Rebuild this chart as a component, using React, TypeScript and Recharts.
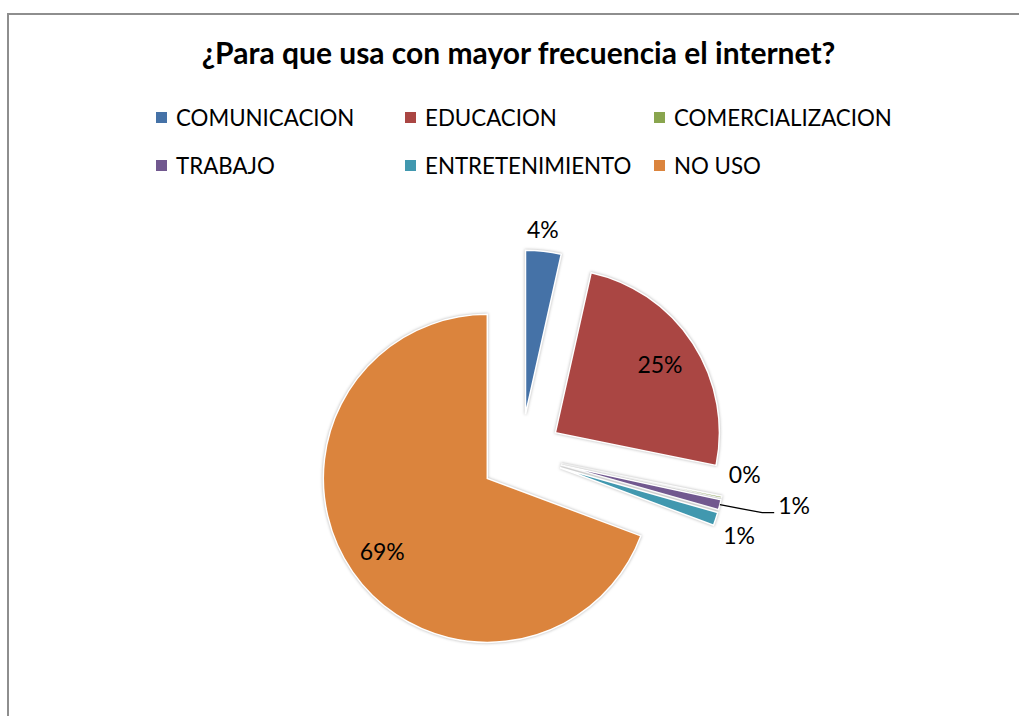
import { PieChart, Pie, Cell, Sector, Legend } from "recharts";

const categories = ["COMUNICACION", "EDUCACION", "COMERCIALIZACION", "TRABAJO", "ENTRETENIMIENTO", "NO USO"];
const shares = [3.5, 24.7, 0.2, 1.0, 1.3, 69.3];
const sliceColors = ["#4572A7", "#AA4643", "#89A54E", "#71588F", "#4198AF", "#DB843D"];

const chartData = categories.map((name, i) => ({ name, value: shares[i] }));

const RADIAN = Math.PI / 180;
const EXPLODE = 0.25;
const FONT = "Lato, 'Open Sans', sans-serif";

// every slice is pulled out from the centre along its mid angle
const explodedCenter = (cx: number, cy: number, midAngle: number, r: number) => {
  const off = r * EXPLODE;
  return [cx + off * Math.cos(-midAngle * RADIAN), cy + off * Math.sin(-midAngle * RADIAN)];
};

const ExplodedSector = (props: any) => {
  const { cx, cy, midAngle, outerRadius } = props;
  const [ex, ey] = explodedCenter(cx, cy, midAngle, outerRadius);
  return (
    <Sector
      {...props}
      cx={ex}
      cy={ey}
      style={{ filter: "drop-shadow(0px 0px 1.5px rgba(0,0,0,0.3))" }}
    />
  );
};

// label placement per slice (inside / outside / with leader line)
const labelLayout = [
  { mode: "out", shift: 0.9, pad: 21 },
  { mode: "in", k: 0.76 },
  { mode: "out", shift: 8.3, pad: 20 },
  { mode: "leader", shift: 0.7, pad: 43 },
  { mode: "out", shift: -2.5, pad: 27.5 },
  { mode: "in", k: 0.78 },
];

const LABEL_SIZE = 23;

const renderLabel = (props: any) => {
  const { cx, cy, midAngle, outerRadius, percent, index } = props;
  const [ex, ey] = explodedCenter(cx, cy, midAngle, outerRadius);
  const text = `${Math.round(percent * 100)}%`;
  const lay: any = labelLayout[index];
  const base = LABEL_SIZE * 0.36;

  if (lay.mode === "in") {
    const r = outerRadius * lay.k;
    const x = ex + r * Math.cos(-midAngle * RADIAN);
    const y = ey + r * Math.sin(-midAngle * RADIAN);
    return (
      <text x={x} y={y + base} textAnchor="middle" fontFamily={FONT} fontSize={LABEL_SIZE} fill="#000">
        {text}
      </text>
    );
  }

  const a = -(midAngle + lay.shift) * RADIAN;
  if (lay.mode === "leader") {
    const sx = ex + outerRadius * Math.cos(-midAngle * RADIAN);
    const sy = ey + outerRadius * Math.sin(-midAngle * RADIAN);
    const mx = ex + (outerRadius + lay.pad) * Math.cos(a);
    const my = ey + (outerRadius + lay.pad) * Math.sin(a);
    return (
      <g>
        <polyline points={`${sx},${sy} ${mx},${my} ${mx + 12},${my}`} fill="none" stroke="#000" strokeWidth={1.3} />
        <text x={mx + 16} y={my - 7 + base} textAnchor="start" fontFamily={FONT} fontSize={LABEL_SIZE} fill="#000">
          {text}
        </text>
      </g>
    );
  }

  const x = ex + (outerRadius + lay.pad) * Math.cos(a);
  const y = ey + (outerRadius + lay.pad) * Math.sin(a);
  return (
    <text x={x} y={y + base} textAnchor="middle" fontFamily={FONT} fontSize={LABEL_SIZE} fill="#000">
      {text}
    </text>
  );
};

const renderLegend = (props: any) => {
  const payload = [...(props.payload ?? [])].sort(
    (a: any, b: any) => categories.indexOf(a.value) - categories.indexOf(b.value)
  );
  return (
    <div style={{ display: "grid", gridTemplateColumns: "249px 249px 270px" }}>
      {payload.map((entry: any) => (
        <div
          key={entry.value}
          style={{ display: "flex", alignItems: "center", height: 48, fontFamily: FONT, fontSize: 22.3, color: "#000" }}
        >
          <span
            style={{
              width: 11,
              height: 11,
              background: entry.color ?? sliceColors[categories.indexOf(entry.value)],
              marginRight: 9,
              flexShrink: 0,
            }}
          />
          <span style={{ whiteSpace: "nowrap" }}>{entry.value}</span>
        </div>
      ))}
    </div>
  );
};

export default function App() {
  return (
    <div style={{ position: "absolute", left: 0, top: 0, width: 1019, height: 716, overflow: "hidden", background: "#fff" }}>
      <div
        style={{
          position: "absolute",
          left: 7,
          top: 13,
          width: 1100,
          height: 800,
          borderLeft: "2px solid #8e8e8e",
          borderTop: "2px solid #8e8e8e",
        }}
      />
      <PieChart width={1019} height={716} margin={{ top: 0, right: 0, bottom: 0, left: 0 }}>
        <text x={518.5} y={64} textAnchor="middle" fontFamily={FONT} fontWeight={700} fontSize={30} fill="#000">
          ¿Para que usa con mayor frecuencia el internet?
        </text>
        <Pie
          data={chartData}
          dataKey="value"
          nameKey="name"
          cx={521}
          cy={455}
          outerRadius={164}
          startAngle={90}
          endAngle={-270}
          stroke="#fff"
          strokeWidth={1.5}
          shape={ExplodedSector}
          label={renderLabel}
          labelLine={false}
          isAnimationActive={false}
        >
          {chartData.map((entry, i) => (
            <Cell key={entry.name} fill={sliceColors[i]} />
          ))}
        </Pie>
        <Legend
          layout="horizontal"
          verticalAlign="middle"
          align="center"
          itemSorter={null}
          content={renderLegend}
          wrapperStyle={{ left: 156, top: 93, width: 800, height: 96 }}
        />
      </PieChart>
    </div>
  );
}
